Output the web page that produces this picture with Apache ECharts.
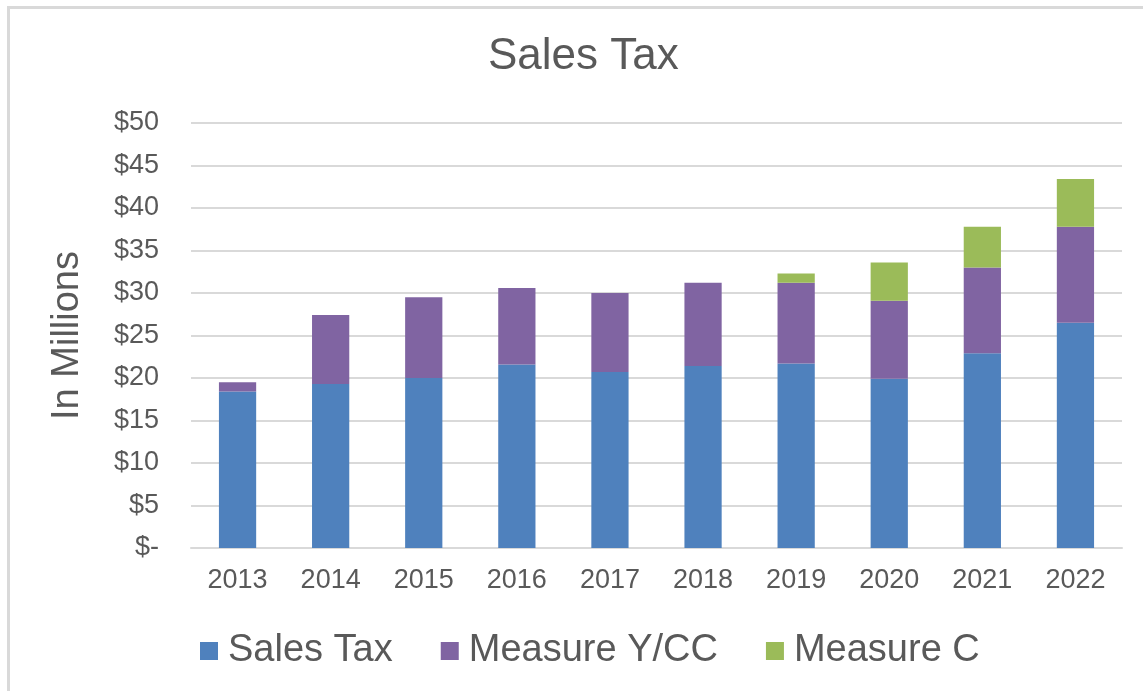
<!DOCTYPE html>
<html>
<head>
<meta charset="utf-8">
<script src="https://cdn.jsdelivr.net/npm/echarts@6/dist/echarts.min.js"></script>
<style>
  html, body { margin: 0; padding: 0; background: #fff; }
  #chart { width: 1143px; height: 691px; }
</style>
</head>
<body>
<div id="chart"></div>
<script>
const years = ["2013", "2014", "2015", "2016", "2017", "2018", "2019", "2020", "2021", "2022"];
const salesTax = [18.4, 19.3, 20.0, 21.6, 20.7, 21.4, 21.7, 19.9, 22.9, 26.5];
const measureYCC = [1.1, 8.1, 9.5, 9.0, 9.3, 9.8, 9.5, 9.2, 10.1, 11.3];
const measureC = [0, 0, 0, 0, 0, 0, 1.1, 4.5, 4.8, 5.6];

const textColor = "#595959",
  gridColor = "#d9d9d9",
  fontFamily = "'Liberation Sans', Arial, sans-serif";

const chart = echarts.init(document.querySelector("#chart"));

chart.setOption({
  animation: false,
  textStyle: { fontFamily: fontFamily },
  graphic: [
    {
      type: "rect",
      shape: { x: 8.5, y: 7.5, width: 1300, height: 900 },
      style: { fill: "none", stroke: gridColor, lineWidth: 3 },
      silent: true,
    },
  ],
  title: {
    text: "Sales Tax",
    left: 483,
    top: 30,
    textStyle: { color: textColor, fontSize: 44, fontWeight: "normal", fontFamily: fontFamily },
  },
  legend: {
    left: 195,
    top: 627,
    icon: "rect",
    itemWidth: 18,
    itemHeight: 18,
    itemGap: 48,
    textStyle: { color: textColor, fontSize: 38, fontFamily: fontFamily, padding: [0, 0, 0, 5] },
    data: ["Sales Tax", "Measure Y/CC", "Measure C"],
  },
  grid: {
    left: 191,
    right: 21,
    top: 123,
    bottom: 143,
    containLabel: false,
  },
  xAxis: {
    type: "category",
    data: years,
    axisLine: { lineStyle: { color: gridColor, width: 2 } },
    axisTick: { show: false },
    axisLabel: { color: textColor, fontSize: 27, margin: 19 },
  },
  yAxis: {
    type: "value",
    min: 0,
    max: 50,
    interval: 5,
    name: "In Millions",
    nameLocation: "middle",
    nameRotate: 90,
    nameGap: 104,
    nameTextStyle: { color: textColor, fontSize: 38, fontFamily: fontFamily },
    axisLine: { show: false },
    axisTick: { show: false },
    splitLine: { lineStyle: { color: gridColor, width: 2 } },
    axisLabel: {
      color: textColor,
      fontSize: 27,
      margin: 32,
      formatter: (v) => (v === 0 ? "$-" : "$" + v),
    },
  },
  series: [
    {
      name: "Sales Tax",
      type: "bar",
      stack: "total",
      barWidth: "40%",
      itemStyle: { color: "#4f81bd" },
      data: salesTax,
    },
    {
      name: "Measure Y/CC",
      type: "bar",
      stack: "total",
      itemStyle: { color: "#8064a2" },
      data: measureYCC,
    },
    {
      name: "Measure C",
      type: "bar",
      stack: "total",
      itemStyle: { color: "#9bbb59" },
      data: measureC,
    },
  ],
});
</script>
</body>
</html>
